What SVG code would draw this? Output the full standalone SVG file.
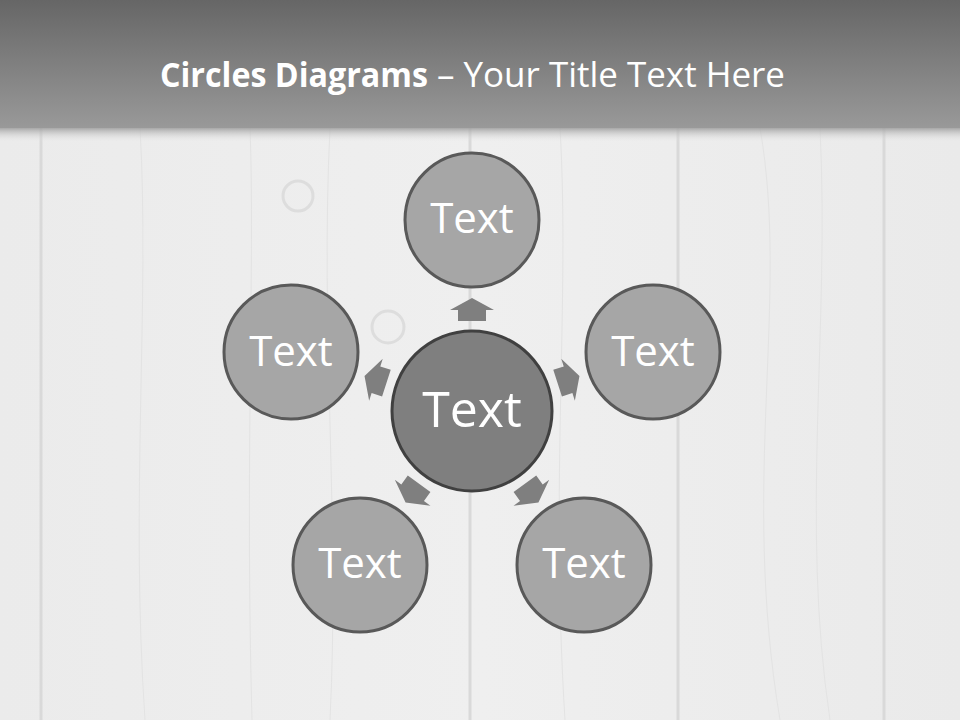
<svg xmlns="http://www.w3.org/2000/svg" width="960" height="720" viewBox="0 0 960 720">
  <defs>
    <linearGradient id="hdr" x1="0" y1="0" x2="0" y2="1">
      <stop offset="0" stop-color="#666666"/>
      <stop offset="1" stop-color="#999999"/>
    </linearGradient>
    <linearGradient id="shadow" x1="0" y1="0" x2="0" y2="1">
      <stop offset="0" stop-color="#a0a0a0" stop-opacity="0.9"/>
      <stop offset="1" stop-color="#e8e8e8" stop-opacity="0"/>
    </linearGradient>
    <linearGradient id="wood" x1="0" y1="0" x2="1" y2="0">
      <stop offset="0" stop-color="#ebebeb"/>
      <stop offset="0.5" stop-color="#efefef"/>
      <stop offset="1" stop-color="#eaeaea"/>
    </linearGradient>
    <path id="arrow" d="M-14,-90 L14,-90 L14,-101 L22,-101 L0,-113 L-22,-101 L-14,-101 Z"/>
  </defs>
  <style>
    .outer { fill: #a6a6a6; stroke: #595959; stroke-width: 3; }
    .center { fill: #7f7f7f; stroke: #404040; stroke-width: 3; }
    .lbl { fill: #ffffff; font-family: "Open Sans", "Noto Sans", "DejaVu Sans", sans-serif; text-anchor: middle; }
    .arrow { fill: #7f7f7f; }
    .seam { stroke: #d9d9d9; stroke-width: 3; }
    .grain { stroke: #e3e3e3; stroke-width: 1; fill: none; }
    .knot { fill: none; stroke: #dddddd; stroke-width: 3; }
  </style>

  <!-- background wood -->
  <rect x="0" y="0" width="960" height="720" fill="url(#wood)"/>
  <g id="planks">
    <line class="seam" x1="41" y1="128" x2="41" y2="720"/>
    <line class="seam" x1="470" y1="128" x2="470" y2="720"/>
    <line class="seam" x1="678" y1="128" x2="678" y2="720"/>
    <line class="seam" x1="884" y1="128" x2="884" y2="720"/>
    <path class="grain" d="M140,128 C150,300 130,500 145,720"/>
    <path class="grain" d="M250,128 C255,260 245,460 252,720"/>
    <path class="grain" d="M330,128 C320,330 340,520 330,720"/>
    <path class="grain" d="M560,128 C570,300 550,480 565,720"/>
    <path class="grain" d="M760,128 C790,300 740,480 780,720"/>
    <path class="grain" d="M820,128 C830,330 800,520 830,720"/>
    <circle class="knot" cx="298" cy="196" r="15"/>
    <circle class="knot" cx="388" cy="327" r="16"/>
  </g>

  <!-- header -->
  <rect x="0" y="0" width="960" height="128" fill="url(#hdr)"/>
  <rect x="0" y="128" width="960" height="14" fill="url(#shadow)"/>
  <g id="title">
    <text x="160" y="87" font-family="Open Sans, Noto Sans, sans-serif" font-size="34" font-weight="bold" fill="#ffffff" textLength="268" lengthAdjust="spacingAndGlyphs">Circles Diagrams</text>
    <text x="437" y="87" font-family="Open Sans, Noto Sans, sans-serif" font-size="34" fill="#ffffff" textLength="348" lengthAdjust="spacingAndGlyphs">– Your Title Text Here</text>
  </g>

  <!-- connectors -->
  <g id="connectors">
    <use href="#arrow" class="arrow" transform="translate(472,411)"/>
    <use href="#arrow" class="arrow" transform="translate(472,411) rotate(72)"/>
    <use href="#arrow" class="arrow" transform="translate(472,411) rotate(144)"/>
    <use href="#arrow" class="arrow" transform="translate(472,411) rotate(216)"/>
    <use href="#arrow" class="arrow" transform="translate(472,411) rotate(288)"/>
  </g>

  <!-- nodes -->
  <g id="node-center">
    <circle class="center" cx="472" cy="411" r="80"/>
    <text class="lbl" x="472" y="427" font-size="50">Text</text>
  </g>
  <g id="node-top">
    <circle class="outer" cx="472" cy="220" r="67"/>
    <text class="lbl" x="472" y="233" font-size="42">Text</text>
  </g>
  <g id="node-right">
    <circle class="outer" cx="653" cy="352" r="67"/>
    <text class="lbl" x="653" y="366" font-size="42">Text</text>
  </g>
  <g id="node-bottom-right">
    <circle class="outer" cx="584" cy="565" r="67"/>
    <text class="lbl" x="584" y="578" font-size="42">Text</text>
  </g>
  <g id="node-bottom-left">
    <circle class="outer" cx="360" cy="565" r="67"/>
    <text class="lbl" x="360" y="578" font-size="42">Text</text>
  </g>
  <g id="node-left">
    <circle class="outer" cx="291" cy="352" r="67"/>
    <text class="lbl" x="291" y="366" font-size="42">Text</text>
  </g>
</svg>
